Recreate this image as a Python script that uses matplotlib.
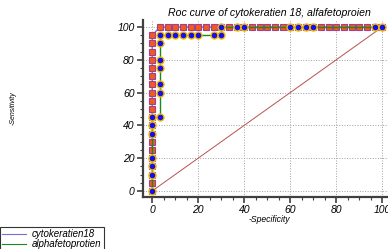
import matplotlib
matplotlib.use("Agg")
import matplotlib.pyplot as plt
from matplotlib.lines import Line2D
import numpy as np

plt.rcParams['font.family'] = ['Liberation Sans', 'DejaVu Sans']

# 100 - specificity / sensitivity points
step = 100 / 30
cyto_x = [0] * 20 + [round(step * i, 2) for i in range(1, 31)]
cyto_y = list(range(0, 100, 5)) + [100] * 30

alpha_x = [0, 0, 0, 0, 0, 0, 0,
           3.33, 3.33, 3.33, 3.33, 3.33, 3.33, 3.33,
           6.67, 10, 13.33, 16.67, 20, 26.67, 30,
           30, 36.67, 40, 60, 63.33, 66.67, 70, 96.67, 100]
alpha_y = [0, 10, 15, 20, 35, 40, 45,
           45, 60, 65, 75, 80, 90, 95,
           95, 95, 95, 95, 95, 95, 95,
           100, 100, 100, 100, 100, 100, 100, 100, 100]

title = "Roc curve of cytokeratien 18, alfafetoproien"
labels = ["cytokeratien18", "alphafetoprotien"]

fig = plt.figure(figsize=(3.88, 2.49), dpi=100)
ax = fig.add_axes([143 / 388, 1 - 197 / 249, 253 / 388, 177 / 249])

ax.plot([0, 100], [0, 100], color="#b85050", lw=0.7, zorder=2)

ax.plot(cyto_x, cyto_y, color="#7070d0", lw=1.0, zorder=3)
ax.plot(cyto_x, cyto_y, ls="none", marker="s", ms=5, mfc="#f25a1e",
        mec="#a04090", mew=0.8, zorder=4)
ax.plot(alpha_x, alpha_y, color="#1a8a1a", lw=1.0, zorder=5)
ax.plot(alpha_x, alpha_y, ls="none", marker="o", ms=5, mfc="#1010f0",
        mec="#f5b800", mew=1.0, zorder=6)

ax.set_xlim(-4, 106)
ax.set_ylim(-3.7, 104.3)
ax.set_xticks(np.arange(0, 101, 20))
ax.set_yticks(np.arange(0, 101, 20))
ax.set_xticks(np.arange(0, 101, 5), minor=True)
ax.set_yticks(np.arange(0, 101, 5), minor=True)

for s in ["top", "right"]:
    ax.spines[s].set_visible(False)
for s in ["left", "bottom"]:
    ax.spines[s].set_color("#404040")
    ax.spines[s].set_linewidth(1.6)

ax.tick_params(which="major", length=4, width=1.2, color="#404040",
               labelsize=7.5, pad=2)
ax.tick_params(which="minor", length=2, width=0.8, color="#404040")
for lab in ax.get_xticklabels() + ax.get_yticklabels():
    lab.set_fontstyle("italic")

ax.grid(True, which="major", ls=":", color="#a0a0a0", lw=0.7)
ax.set_axisbelow(True)

ax.set_title(title, fontsize=7.6, style="italic", pad=3)
ax.set_xlabel("-Specificity", fontsize=6.2, style="italic")
ax.xaxis.set_label_coords(0.5, -0.1)
ax.set_ylabel("-Sensitivity", fontsize=5, style="italic")
ax.yaxis.set_label_coords(-0.5, 0.5)

handles = [Line2D([], [], color="#7070d0", lw=0.8),
           Line2D([], [], color="#1a8a1a", lw=0.8)]
leg = fig.legend(handles, labels, loc="upper left",
                 bbox_to_anchor=(0.0, 1 - 227 / 249), fontsize=7,
                 frameon=True, fancybox=False, edgecolor="black",
                 borderpad=0.2, labelspacing=0.05, handlelength=2.5,
                 handletextpad=0.6, borderaxespad=0)
leg.get_frame().set_linewidth(0.8)
for t in leg.get_texts():
    t.set_fontstyle("italic")

fig.savefig("out.png", dpi=100)
